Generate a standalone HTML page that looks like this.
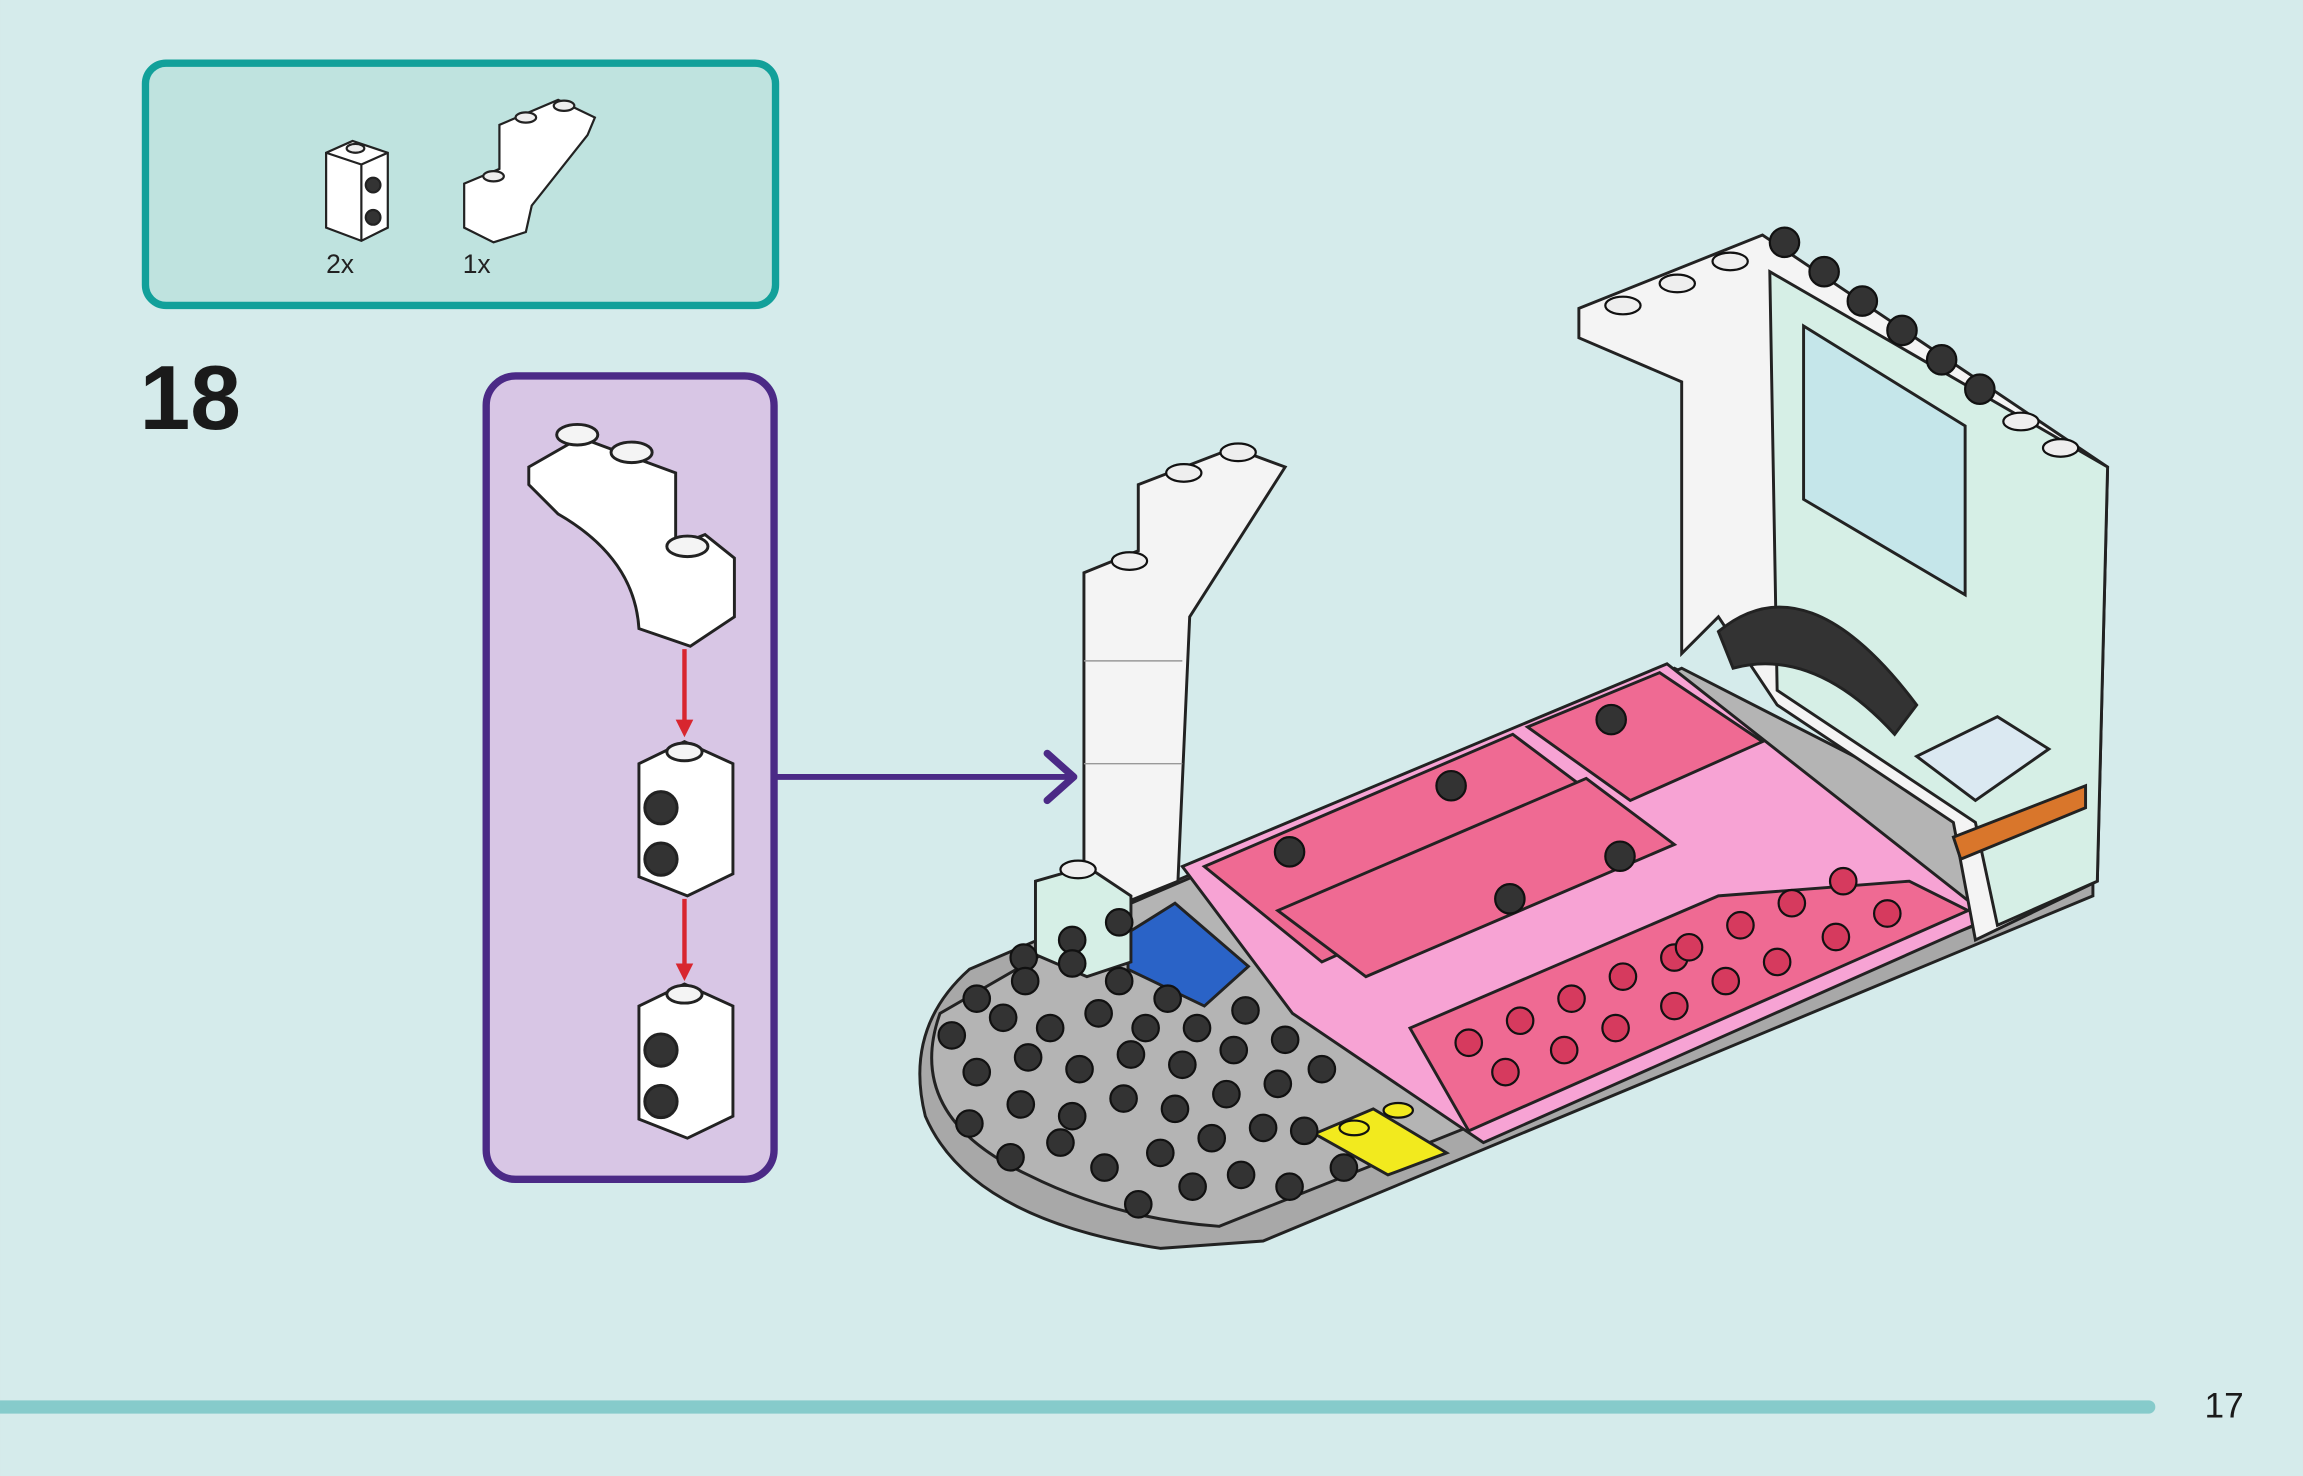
<!DOCTYPE html>
<html><head><meta charset="utf-8"><style>
html,body{margin:0;padding:0;background:#d5ebeb;}
svg{display:block}
text{font-family:"Liberation Sans",sans-serif}
</style></head><body>
<svg width="2303" height="1476" viewBox="0 0 1568 1005" xmlns="http://www.w3.org/2000/svg">
<defs>
<marker id="rh" markerWidth="12" markerHeight="12" refX="6" refY="6" orient="auto" markerUnits="userSpaceOnUse">
<path d="M0,0 L12,6 L0,12 Z" fill="#d8262f"/></marker>
</defs>
<rect width="1568" height="1005" fill="#d5ebeb"/>
<!-- parts box -->
<rect x="99" y="43" width="429" height="165" rx="14" fill="#bfe3df" stroke="#12a09a" stroke-width="5"/>
<g stroke="#222" stroke-width="1.5" fill="#fff">
<polygon points="222,104 240,96 264,104 264,155 246,164 222,155"/>
<line x1="222" y1="104" x2="246" y2="112"/><line x1="246" y1="112" x2="264" y2="104"/><line x1="246" y1="112" x2="246" y2="164"/>
<circle cx="254" cy="126" r="5" fill="#333"/><circle cx="254" cy="148" r="5" fill="#333"/>
<ellipse cx="242" cy="101" rx="6" ry="3" fill="#eee"/>
<path d="M316,125 L340,115 L340,85 L380,68 L405,80 L400,92 L362,140 L358,158 L336,165 L316,155 Z"/>
<ellipse cx="358" cy="80" rx="7" ry="3.5" fill="#eee"/><ellipse cx="384" cy="72" rx="7" ry="3.5" fill="#eee"/><ellipse cx="336" cy="120" rx="7" ry="3.5" fill="#eee"/>
</g>
<text x="222" y="186" font-size="18" fill="#222">2x</text>
<text x="315" y="186" font-size="18" fill="#222">1x</text>
<text x="95" y="292" font-size="62" font-weight="bold" fill="#1a1a1a">18</text>
<!-- purple box -->
<rect x="331" y="256" width="196" height="547" rx="20" fill="#d8c6e5" stroke="#4b2a86" stroke-width="5"/>
<g stroke="#222" stroke-width="2" fill="#fff">
<path d="M360,318 L395,298 L460,322 L460,372 L480,364 L500,380 L500,420 L470,440 L435,428 Q432,380 380,350 L360,330 Z"/>
<ellipse cx="393" cy="296" rx="14" ry="7" fill="#f4f4f4"/><ellipse cx="430" cy="308" rx="14" ry="7" fill="#f4f4f4"/><ellipse cx="468" cy="372" rx="14" ry="7" fill="#f4f4f4"/>
<polygon points="435,520 466,505 499,520 499,595 468,610 435,597"/>
<ellipse cx="466" cy="512" rx="12" ry="6" fill="#f4f4f4"/>
<circle cx="450" cy="550" r="11" fill="#333"/><circle cx="450" cy="585" r="11" fill="#333"/>
<polygon points="435,685 466,670 499,685 499,760 468,775 435,762"/>
<ellipse cx="466" cy="677" rx="12" ry="6" fill="#f4f4f4"/>
<circle cx="450" cy="715" r="11" fill="#333"/><circle cx="450" cy="750" r="11" fill="#333"/>
</g>
<line x1="466" y1="442" x2="466" y2="496" stroke="#d8262f" stroke-width="3" marker-end="url(#rh)"/>
<line x1="466" y1="612" x2="466" y2="662" stroke="#d8262f" stroke-width="3" marker-end="url(#rh)"/>
<!-- connector -->
<line x1="529" y1="529" x2="730" y2="529" stroke="#4b2a86" stroke-width="4"/>
<path d="M713,513 L731,529 L713,545" fill="none" stroke="#4b2a86" stroke-width="5" stroke-linecap="round" stroke-linejoin="round"/>
<!-- model -->
<g stroke="#222" stroke-width="2">
<path d="M660,660 Q615,700 630,760 Q660,830 790,850 L860,845 L1425,610 L1425,595 L1140,455 L800,600 Z" fill="#a8a8a8"/>
<path d="M640,690 Q615,760 700,800 Q760,830 830,835 L1425,598 L1145,455 L770,615 Z" fill="#b4b4b4"/>
<polygon points="805,590 1135,452 1355,625 1010,778 880,690" fill="#f7a3d4"/>
<polygon points="820,590 1030,500 1110,560 900,655" fill="#ef6a93"/>
<polygon points="1040,495 1130,458 1200,505 1110,545" fill="#ef6a93"/>
<polygon points="960,700 1170,610 1300,600 1340,620 1000,770" fill="#ef6a93"/>
<polygon points="870,620 1080,530 1140,575 930,665" fill="#ef6a93"/>
<polygon points="895,772 935,755 985,785 945,800" fill="#f2ea1e"/>
<polygon points="768,635 800,615 850,658 820,685 768,660" fill="#2a63c7"/>
<polygon points="738,390 775,375 775,330 840,305 875,318 810,420 802,600 765,615 738,600" fill="#f4f4f4"/>
<line x1="738" y1="450" x2="805" y2="450" stroke-width="1" stroke="#999"/>
<line x1="738" y1="520" x2="805" y2="520" stroke-width="1" stroke="#999"/>
<polygon points="705,600 740,590 770,610 770,655 740,665 705,650" fill="#d6efe6"/>
<polygon points="1075,210 1200,160 1435,318 1428,600 1345,640 1330,560 1210,480 1170,420 1145,445 1145,260 1075,230" fill="#f4f4f4"/>
<polygon points="1205,185 1435,318 1428,600 1360,630 1345,560 1210,470" fill="#d6efe6"/>
<polygon points="1228,222 1338,290 1338,405 1228,340" fill="#c5e6ea"/>
<path d="M1170,430 Q1230,380 1305,480 L1290,500 Q1235,440 1180,455 Z" fill="#333"/>
<polygon points="1305,515 1360,488 1395,510 1345,545" fill="#dbe9f2"/>
<polygon points="1330,570 1420,535 1420,550 1335,585" fill="#d9762b"/>
</g>
<g fill="#333" stroke="#111" stroke-width="1.5">
<circle cx="697" cy="652" r="9"/><circle cx="730" cy="640" r="9"/><circle cx="762" cy="628" r="9"/>
<circle cx="665" cy="680" r="9"/><circle cx="698" cy="668" r="9"/><circle cx="730" cy="656" r="9"/><circle cx="762" cy="668" r="9"/><circle cx="795" cy="680" r="9"/>
<circle cx="648" cy="705" r="9"/><circle cx="683" cy="693" r="9"/><circle cx="715" cy="700" r="9"/><circle cx="748" cy="690" r="9"/><circle cx="780" cy="700" r="9"/><circle cx="815" cy="700" r="9"/><circle cx="848" cy="688" r="9"/>
<circle cx="665" cy="730" r="9"/><circle cx="700" cy="720" r="9"/><circle cx="735" cy="728" r="9"/><circle cx="770" cy="718" r="9"/><circle cx="805" cy="725" r="9"/><circle cx="840" cy="715" r="9"/><circle cx="875" cy="708" r="9"/>
<circle cx="660" cy="765" r="9"/><circle cx="695" cy="752" r="9"/><circle cx="730" cy="760" r="9"/><circle cx="765" cy="748" r="9"/><circle cx="800" cy="755" r="9"/><circle cx="835" cy="745" r="9"/><circle cx="870" cy="738" r="9"/><circle cx="900" cy="728" r="9"/>
<circle cx="688" cy="788" r="9"/><circle cx="722" cy="778" r="9"/><circle cx="752" cy="795" r="9"/><circle cx="790" cy="785" r="9"/><circle cx="825" cy="775" r="9"/><circle cx="860" cy="768" r="9"/><circle cx="888" cy="770" r="9"/>
<circle cx="775" cy="820" r="9"/><circle cx="812" cy="808" r="9"/><circle cx="845" cy="800" r="9"/><circle cx="878" cy="808" r="9"/><circle cx="915" cy="795" r="9"/>
<g fill="#d63a5e"><circle cx="1000" cy="710" r="9"/><circle cx="1035" cy="695" r="9"/><circle cx="1070" cy="680" r="9"/><circle cx="1105" cy="665" r="9"/><circle cx="1140" cy="652" r="9"/>
<circle cx="1025" cy="730" r="9"/><circle cx="1065" cy="715" r="9"/><circle cx="1100" cy="700" r="9"/><circle cx="1140" cy="685" r="9"/><circle cx="1175" cy="668" r="9"/><circle cx="1210" cy="655" r="9"/><circle cx="1250" cy="638" r="9"/><circle cx="1285" cy="622" r="9"/>
<circle cx="1150" cy="645" r="9"/><circle cx="1185" cy="630" r="9"/><circle cx="1220" cy="615" r="9"/><circle cx="1255" cy="600" r="9"/></g>
<circle cx="878" cy="580" r="10"/><circle cx="988" cy="535" r="10"/><circle cx="1097" cy="490" r="10"/><circle cx="1028" cy="612" r="10"/><circle cx="1103" cy="583" r="10"/>
<circle cx="1215" cy="165" r="10"/><circle cx="1242" cy="185" r="10"/><circle cx="1268" cy="205" r="10"/><circle cx="1295" cy="225" r="10"/><circle cx="1322" cy="245" r="10"/><circle cx="1348" cy="265" r="10"/>
</g>
<g fill="#eeeeee" stroke="#111" stroke-width="1.5">
<ellipse cx="1105" cy="208" rx="12" ry="6"/><ellipse cx="1142" cy="193" rx="12" ry="6"/><ellipse cx="1178" cy="178" rx="12" ry="6"/>
<ellipse cx="1376" cy="287" rx="12" ry="6"/><ellipse cx="1403" cy="305" rx="12" ry="6"/>
<ellipse cx="806" cy="322" rx="12" ry="6"/><ellipse cx="843" cy="308" rx="12" ry="6"/><ellipse cx="769" cy="382" rx="12" ry="6"/><ellipse cx="734" cy="592" rx="12" ry="6"/>
<ellipse cx="922" cy="768" rx="10" ry="5" fill="#f2ea1e"/><ellipse cx="952" cy="756" rx="10" ry="5" fill="#f2ea1e"/>
</g>
<line x1="0" y1="958" x2="1463" y2="958" stroke="#86cbcb" stroke-width="9" stroke-linecap="round"/>
<text x="1501" y="965" font-size="24" fill="#1a1a1a">17</text>
</svg>
</body></html>
